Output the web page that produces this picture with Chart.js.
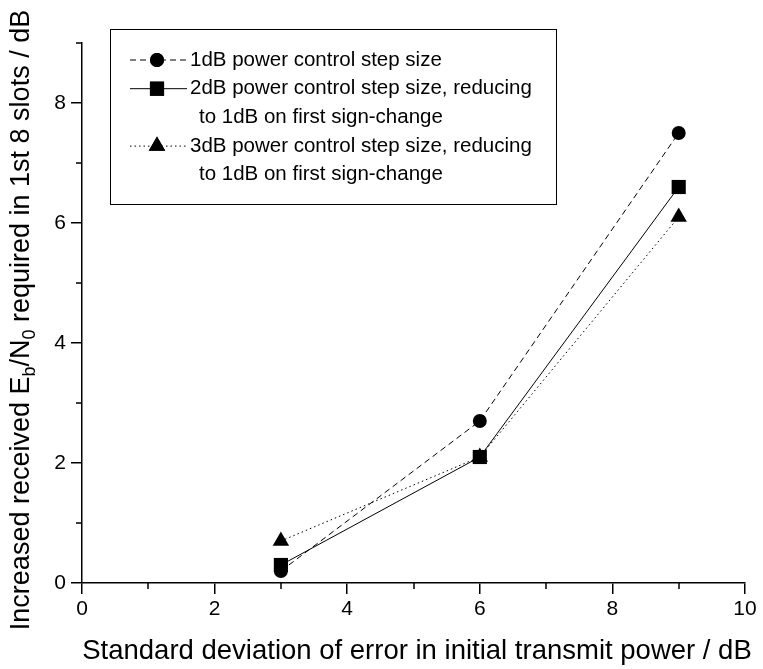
<!DOCTYPE html>
<html>
<head>
<meta charset="utf-8">
<script src="https://cdn.jsdelivr.net/npm/chart.js@4.4.1/dist/chart.umd.min.js"></script>
<style>
  html, body { margin: 0; padding: 0; background: #fff; }
  #wrap { width: 763px; height: 669px; }
</style>
</head>
<body>
<div id="wrap"><canvas id="chart"></canvas></div>
<script>
// values
const xValues = [3, 6, 9]
const step1dB = [0.2, 2.7, 7.5]
const step2dB = [0.3, 2.1, 6.6]
const step3dB = [0.7, 2.1, 6.1]

const legendText = [
    ['1dB power control step size'],
    ['2dB power control step size, reducing', 'to 1dB on first sign-change'],
    ['3dB power control step size, reducing', 'to 1dB on first sign-change']
]
const xTickLabels = [0, 2, 4, 6, 8, 10]
const yTickLabels = [0, 2, 4, 6, 8]
const xTitle = 'Standard deviation of error in initial transmit power / dB'
// y title pieces: [text, isSubscript]
const yTitle = [
    ['Increased received E', false], ['b', true], ['/N', false], ['0', true],
    [' required in 1st 8 slots / dB', false]
]

const FONT = '"Liberation Sans", Arial, sans-serif'

function points(ys) {
    return xValues.map((x, i) => ({ x: x, y: ys[i] }))
}

// minor ticks (odd values) drawn shorter than the major ones
const minorTicks = {
    id: 'minorTicks',
    afterDraw(chart) {
        const ctx = chart.ctx
        const xs = chart.scales.x, ys = chart.scales.y
        ctx.save()
        ctx.strokeStyle = '#000'
        ctx.lineWidth = 1.5
        ctx.beginPath()
        for (let v = 1; v < 10; v += 2) {
            const px = Math.round(xs.getPixelForValue(v))
            ctx.moveTo(px, xs.top)
            ctx.lineTo(px, xs.top + 6)
        }
        for (let v = 1; v <= 9; v += 2) {
            const py = Math.round(ys.getPixelForValue(v))
            ctx.moveTo(ys.right, py)
            ctx.lineTo(ys.right - 6, py)
        }
        ctx.stroke()
        ctx.restore()
    }
}

const titles = {
    id: 'titles',
    afterDraw(chart) {
        const ctx = chart.ctx
        ctx.save()
        ctx.fillStyle = '#000'
        ctx.textBaseline = 'alphabetic'
        ctx.font = '27.5px ' + FONT
        ctx.textAlign = 'center'
        ctx.fillText(xTitle, 417, 659)

        // rotated y title with subscripts
        const big = '27px ' + FONT, small = '18px ' + FONT
        let total = 0
        yTitle.forEach(p => {
            ctx.font = p[1] ? small : big
            total += ctx.measureText(p[0]).width
        })
        ctx.translate(29, 320)
        ctx.rotate(-Math.PI / 2)
        ctx.textAlign = 'left'
        let x = -total / 2
        yTitle.forEach(p => {
            ctx.font = p[1] ? small : big
            ctx.fillText(p[0], x, p[1] ? 6 : 0)
            x += ctx.measureText(p[0]).width
        })
        ctx.restore()
    }
}

const boxLegend = {
    id: 'boxLegend',
    afterDraw(chart) {
        const ctx = chart.ctx
        const left = 110, top = 29, right = 556, bottom = 204
        ctx.save()
        ctx.strokeStyle = '#000'
        ctx.lineWidth = 1
        ctx.strokeRect(left + 0.5, top + 0.5, right - left, bottom - top)
        ctx.font = '20.5px ' + FONT
        ctx.textBaseline = 'middle'
        ctx.fillStyle = '#000'
        let y = 60
        chart.data.datasets.forEach((ds, i) => {
            ctx.save()
            ctx.lineWidth = 1
            ctx.setLineDash(ds.borderDash || [])
            ctx.beginPath()
            ctx.moveTo(130, y)
            ctx.lineTo(187, y)
            ctx.stroke()
            ctx.restore()
            Chart.helpers.drawPoint(ctx, {
                pointStyle: ds.pointStyle, radius: ds.pointRadius, rotation: 0, borderWidth: 0
            }, 157, y)
            ctx.fill()
            legendText[i].forEach((line, j) => {
                ctx.fillText(line, j === 0 ? 190 : 199, y)
                y += 28.7
            })
        })
        ctx.restore()
    }
}

function drawChart() {
    const ctx = document.getElementById('chart')
    const common = {
        borderColor: '#000',
        backgroundColor: '#000',
        borderWidth: 1,
        pointBorderWidth: 0,
        pointBackgroundColor: '#000',
        tension: 0
    }
    new Chart(ctx, {
        type: 'line',
        data: {
            datasets: [
                Object.assign({ label: legendText[0][0], data: points(step1dB), borderDash: [6, 4], pointStyle: 'circle', pointRadius: 7 }, common),
                Object.assign({ label: legendText[1][0], data: points(step2dB), pointStyle: 'rect', pointRadius: 10 }, common),
                Object.assign({ label: legendText[2][0], data: points(step3dB), borderDash: [1.5, 3], pointStyle: 'triangle', pointRadius: 9.5 }, common)
            ]
        },
        options: {
            responsive: true,
            maintainAspectRatio: false,
            animation: false,
            devicePixelRatio: 1,
            layout: { padding: { left: 0, top: 43, right: 18, bottom: 0 } },
            plugins: {
                legend: { display: false },
                tooltip: { enabled: false }
            },
            scales: {
                x: {
                    type: 'linear',
                    min: 0,
                    max: 10,
                    afterFit: s => { s.height = 86 },
                    ticks: {
                        stepSize: 1,
                        autoSkip: false,
                        maxRotation: 0,
                        padding: 3,
                        color: '#000',
                        font: { family: FONT, size: 21 },
                        callback: v => xTickLabels.includes(v) ? String(v) : ''
                    },
                    grid: {
                        drawOnChartArea: false,
                        tickLength: 11,
                        lineWidth: 1.5,
                        color: c => xTickLabels.includes(c.tick && c.tick.value) ? '#000' : 'rgba(0,0,0,0)'
                    },
                    border: { color: '#000', width: 1.5 }
                },
                y: {
                    min: 0,
                    max: 9,
                    afterFit: s => { s.width = 82 },
                    ticks: {
                        stepSize: 1,
                        autoSkip: false,
                        padding: 5,
                        color: '#000',
                        font: { family: FONT, size: 21 },
                        callback: v => yTickLabels.includes(v) ? String(v) : ''
                    },
                    grid: {
                        drawOnChartArea: false,
                        tickLength: 11,
                        lineWidth: 1.5,
                        color: c => yTickLabels.includes(c.tick && c.tick.value) ? '#000' : 'rgba(0,0,0,0)'
                    },
                    border: { color: '#000', width: 1.5 }
                }
            }
        },
        plugins: [minorTicks, titles, boxLegend]
    })
}

drawChart()
</script>
</body>
</html>
